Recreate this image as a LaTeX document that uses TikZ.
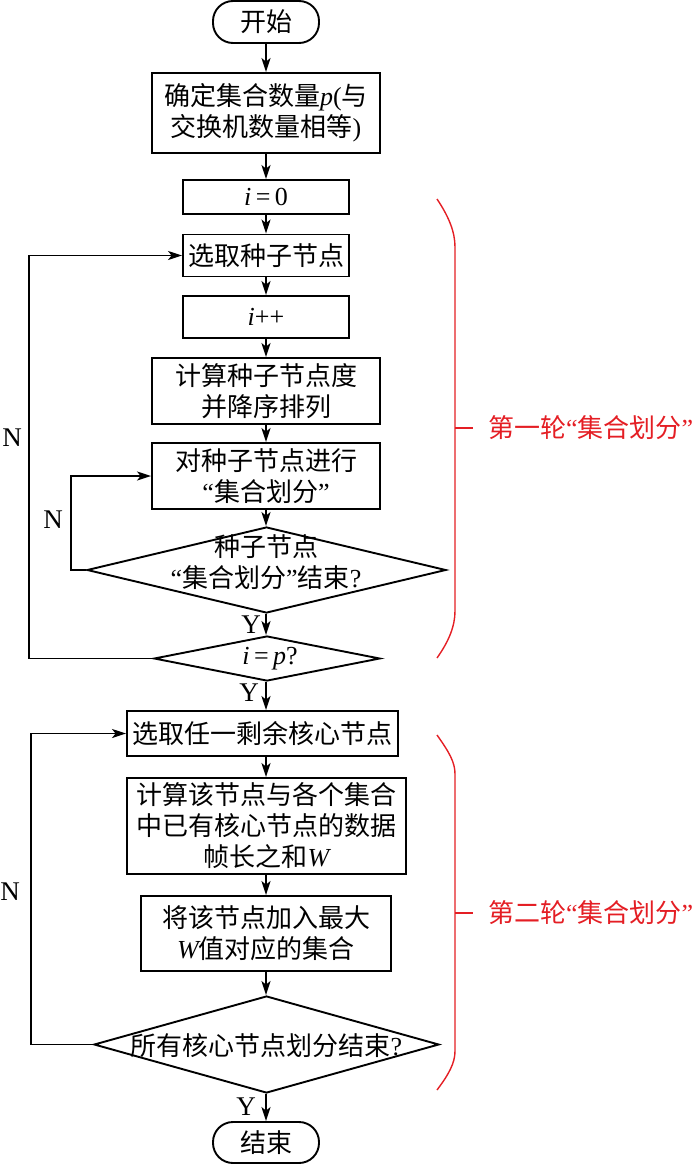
\documentclass[tikz,border=0pt]{standalone}
\usepackage{fontspec}
\setmainfont{Noto Sans CJK SC}
\newfontfamily\lat{Liberation Serif}
\usetikzlibrary{shapes.geometric,arrows.meta}
\definecolor{zred}{RGB}{228,30,36}
\newcommand\mi[1]{{\lat\itshape #1}}
\newcommand\tm[1]{{\lat #1}}
\begin{document}
\begin{tikzpicture}[x=1pt,y=-1pt,
  every node/.style={font=\fontsize{26}{31}\selectfont, inner sep=0pt},
  arr/.style={line width=1.7pt, -{Stealth[length=14pt,width=9pt,inset=3.5pt]}},
  box/.style={draw, line width=1.9pt, rectangle, align=center},
  term/.style={draw, line width=1.9pt, rectangle, rounded corners=20pt, minimum width=106pt, minimum height=42pt},
  dia/.style={draw, line width=1.9pt, diamond, inner sep=0pt},
  txt/.style={align=center},
  lab/.style={font=\lat\fontsize{27}{31}\selectfont},
  brace/.style={draw=zred, line width=1.4pt},
  redlab/.style={text=zred, anchor=west}
]
\useasboundingbox (0,0) rectangle (700,1164);

% nodes
\node[term] (start) at (266,22) {开始};
\node[box, minimum width=228pt, minimum height=80pt] (b1) at (266,113) {确定集合数量\mi{p}\tm{(}与\\交换机数量相等\tm{)}};
\node[box, minimum width=166pt, minimum height=34pt] (b2) at (266,197) {\mi{i}\tm{\,=\,0}};
\node[box, minimum width=166pt, minimum height=42pt] (b3) at (266,255.5) {选取种子节点};
\node[box, minimum width=166pt, minimum height=42pt] (b4) at (266,317) {\mi{i}\tm{++}};
\node[box, minimum width=228pt, minimum height=66pt] (b5) at (266,391) {计算种子节点度\\并降序排列};
\node[box, minimum width=228pt, minimum height=66pt] (b6) at (266,476) {对种子节点进行\\\tm{“}集合划分\tm{”}};
\node[dia, minimum width=359pt, minimum height=86pt] (d1) at (266.5,570) {};
\node[txt] (d1t) at (266,562) {种子节点\\\tm{“}集合划分\tm{”}结束\tm{?}};
\node[dia, minimum width=226pt, minimum height=45pt] (d2) at (267,658.5) {};
\node[txt] (d2t) at (270,658.5) {\mi{i}\tm{\,=\,}\mi{p}\tm{?}};
\node[box, minimum width=271pt, minimum height=45pt] (b7) at (262.5,733.5) {选取任一剩余核心节点};
\node[box, minimum width=279pt, minimum height=96pt] (b8) at (266.5,826) {计算该节点与各个集合\\中已有核心节点的数据\\帧长之和\mi{W}};
\node[box, minimum width=250pt, minimum height=75pt] (b9) at (266,933.5) {将该节点加入最大\\\mi{W}值对应的集合};
\node[dia, minimum width=345pt, minimum height=97pt] (d3) at (266.5,1044.5) {};
\node[txt] (d3t) at (266.5,1046) {所有核心节点划分结束\tm{?}};
\node[term, minimum height=41pt] (end) at (266,1142.5) {结束};

% main flow
\draw[arr] (start) -- (b1);
\draw[arr] (b1) -- (b2);
\draw[arr] (b2) -- (b3);
\draw[arr] (b3) -- (b4);
\draw[arr] (b4) -- (b5);
\draw[arr] (b5) -- (b6);
\draw[arr] (b6.south) -- (b6.south |- d1.north);
\draw[arr] (d1.south -| b6.south) -- (d2.north -| b6.south);
\draw[arr] (d2.south -| b6.south) -- (b7.north -| b6.south);
\draw[arr] (b7.south -| b6.south) -- (b8.north -| b6.south);
\draw[arr] (b8.south -| b6.south) -- (b9.north -| b6.south);
\draw[arr] (b9.south -| b6.south) -- (d3.north -| b6.south);
\draw[arr] (d3.south -| b6.south) -- (end.north);

% loops
\coordinate (c0) at (71,570);
\coordinate (c1) at (29,658.5);
\coordinate (c2) at (31,1044.5);
\draw[arr] (d1.west) -- (c0) |- (b6.west);
\draw[arr] (d2.west) -- (c1) |- (b3.west);
\draw[arr] (d3.west) -- (c2) |- (b7.west);

% labels
\node[lab] (n1) at (12,438) {N};
\node[lab] (n2) at (53,520) {N};
\node[lab] (n3) at (10,892) {N};
\node[lab] (y1) at (251,625) {Y};
\node[lab] (y2) at (249,693) {Y};
\node[lab] (y3) at (246,1107) {Y};

% braces
\draw[brace] (437,199) .. controls (449,217) and (455,232) .. (455,247) -- (455,611)
  .. controls (455,626) and (449,641) .. (437,658);
\draw[brace] (455,428) -- (473,428);
\node[redlab] (r1) at (488,428) {第一轮\tm{“}集合划分\tm{”}};
\draw[brace] (437,735) .. controls (449,752) and (455,762) .. (455,774) -- (455,1051)
  .. controls (455,1063) and (449,1074) .. (437,1090);
\draw[brace] (455,913) -- (473,913);
\node[redlab] (r2) at (488,913) {第二轮\tm{“}集合划分\tm{”}};
\end{tikzpicture}
\end{document}
